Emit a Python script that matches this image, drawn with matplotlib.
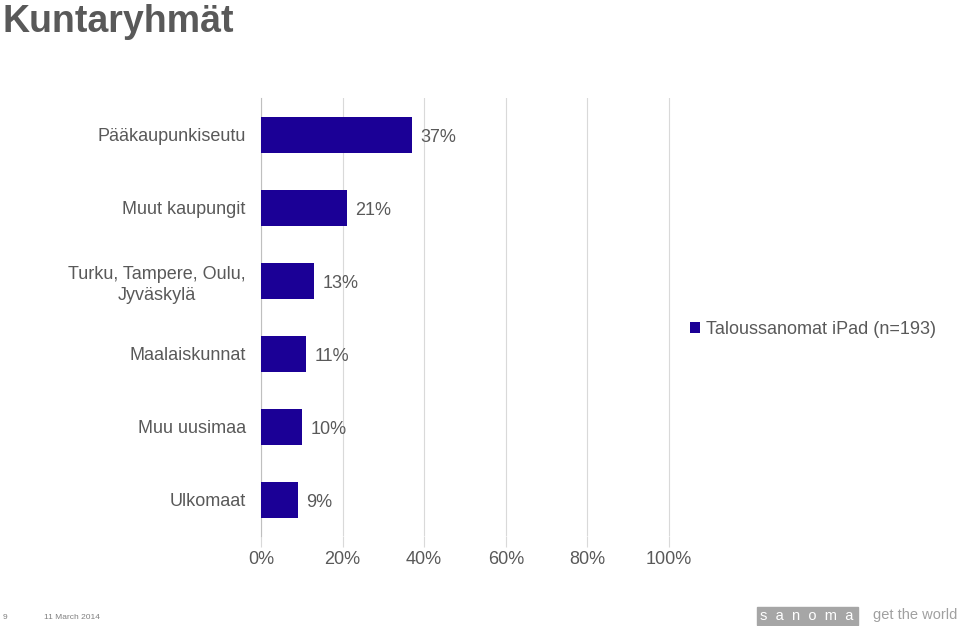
import matplotlib.pyplot as plt
from matplotlib.patches import Rectangle

plt.rcParams['font.family'] = ['Liberation Sans', 'DejaVu Sans']

categories = ['Pääkaupunkiseutu', 'Muut kaupungit', 'Turku, Tampere, Oulu,\nJyväskylä',
              'Maalaiskunnat', 'Muu uusimaa', 'Ulkomaat']
values = [37, 21, 13, 11, 10, 9]
series_name = 'Taloussanomat iPad (n=193)'
xticks = [0, 20, 40, 60, 80, 100]

bar_color = '#1B0096'
text_gray = '#595959'

fig = plt.figure(figsize=(9.6, 6.26), dpi=100)
ax = fig.add_axes([0.2719, 0.143, 0.427, 0.6997])

y = list(range(len(categories)))
ax.barh(y, values, height=0.49, color=bar_color, label=series_name, zorder=3)
for yi, v in zip(y, values):
    ax.annotate(f'{v}%', (v, yi), xytext=(6, -1.5), textcoords='offset points',
                va='center', ha='left', fontsize=13, color=text_gray)

ax.set_ylim(len(categories) - 0.5, -0.5)
ax.set_xlim(0, 100.5)
ax.set_yticks(y)
ax.set_yticklabels(categories, fontsize=13, color=text_gray, multialignment='center',
                   linespacing=1.3)
ax.set_xticks(xticks)
ax.set_xticklabels([f'{t}%' for t in xticks], fontsize=13, color=text_gray)
ax.tick_params(axis='y', length=0, pad=11)
ax.tick_params(axis='x', length=8, color='#D9D9D9', pad=2.5)
ax.grid(axis='x', color='#D9D9D9', linewidth=0.8, zorder=0)
for s in ['top', 'right', 'bottom']:
    ax.spines[s].set_visible(False)
ax.spines['left'].set_color('#BFBFBF')

leg = ax.legend(loc='center left', bbox_to_anchor=(1.047, 0.472), frameon=False,
                borderaxespad=0, borderpad=0, fontsize=13, handlelength=0.55,
                handleheight=0.55, handletextpad=0.35)
for t in leg.get_texts():
    t.set_color(text_gray)

fig.text(0.003, 0.993, 'Kuntaryhmät', fontsize=27, fontweight='bold', color=text_gray,
         ha='left', va='top')

fig.text(0.003, 0.014, '9', fontsize=6, color='#808080', ha='left', va='center')
fig.text(0.046, 0.014, '11 March 2014', fontsize=6, color='#808080', ha='left', va='center')

fig.patches.append(Rectangle((757 / 960, 1 / 626), 101 / 960, 18 / 626,
                             transform=fig.transFigure, color='#A6A6A6'))
fig.text(807 / 960, 10 / 626, 's  a  n  o  m  a', fontsize=10.5, color='white', ha='center',
         va='center')
fig.text(873 / 960, 11 / 626, 'get the world', fontsize=10.5, color='#A0A0A0',
         ha='left', va='center')

fig.savefig('out.png', dpi=100)
